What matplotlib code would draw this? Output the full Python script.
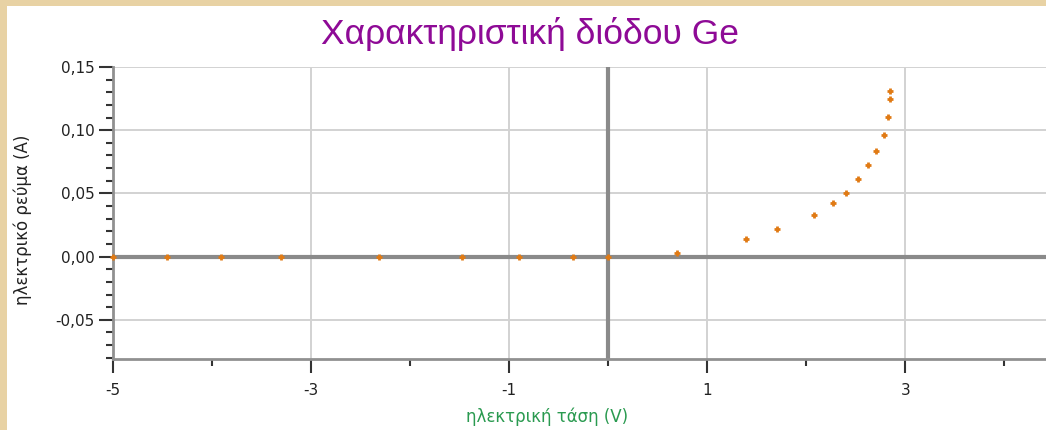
import numpy as np
import matplotlib.pyplot as plt
from matplotlib.patches import Rectangle
from matplotlib.ticker import FixedLocator, FuncFormatter

# μετρήσεις χαρακτηριστικής διόδου Ge
tasi = [-5.00, -4.455, -3.912, -3.306, -2.313, -1.481, -0.899, -0.354, 0.0,
        0.697, 1.388, 1.707, 2.075, 2.273, 2.398, 2.519, 2.620, 2.701,
        2.782, 2.822, 2.842, 2.842]
revma = [0.0, 0.0, 0.0, 0.0, 0.0, 0.0, 0.0, 0.0, 0.0,
         0.0027, 0.0137, 0.0216, 0.0327, 0.0422, 0.0501, 0.0614, 0.0722, 0.0835,
         0.0959, 0.1103, 0.1243, 0.1309]

x_major = [-5, -3, -1, 1, 3]
x_minor = [-4, -2, 0, 2, 4]
y_major = [-0.05, 0.0, 0.05, 0.10, 0.15]
y_minor = list(np.arange(-0.08, 0.151, 0.01))

W, H = 1046, 430
fig = plt.figure(figsize=(W / 100, H / 100), dpi=100)
fig.patch.set_facecolor('#e8d2a4')
# λευκό φύλλο πάνω στο φόντο
fig.patches.append(Rectangle((7 / W, 0), 1 - 7 / W, 1 - 6 / H, transform=fig.transFigure,
                             facecolor='white', edgecolor='none', zorder=-5))

ax = fig.add_axes([113 / W, (H - 359) / H, (W - 113) / W, (359 - 67) / H])
ax.set_zorder(1)
ax.set_facecolor('white')
ax.set_xlim(-5, 4.42)
ax.set_ylim(-0.081, 0.15)

ax.xaxis.set_major_locator(FixedLocator(x_major))
ax.xaxis.set_minor_locator(FixedLocator(x_minor))
ax.yaxis.set_major_locator(FixedLocator(y_major))
ax.yaxis.set_minor_locator(FixedLocator(y_minor))
ax.xaxis.set_major_formatter(FuncFormatter(lambda v, p: f'{v:.0f}'))
ax.yaxis.set_major_formatter(FuncFormatter(lambda v, p: f'{v:.2f}'.replace('.', ',')))

ax.grid(True, which='major', color='#d2d2d2', linewidth=1.4)
# άξονες x=0 και y=0 πάνω από το πλέγμα
ax.axhline(0, color='#8a8a8a', linewidth=3.0, zorder=2)
ax.axvline(0, color='#8a8a8a', linewidth=3.0, zorder=2)

for s in ['top', 'right']:
    ax.spines[s].set_visible(False)
for s in ['left', 'bottom']:
    ax.spines[s].set_color('#909090')
    ax.spines[s].set_linewidth(2.0)

ax.tick_params(axis='both', which='major', length=10, width=1.5, color='#333333',
               labelsize=11, labelcolor='#222222')
ax.tick_params(axis='both', which='minor', length=5, width=1.5, color='#333333')
ax.tick_params(axis='x', which='major', pad=7)
ax.tick_params(axis='y', which='major', pad=3)
for lab in ax.get_xticklabels() + ax.get_yticklabels():
    lab.set_family('DejaVu Sans')

ax.plot(tasi, revma, linestyle='none', marker='+', markersize=5,
        color='#e07a14', markeredgewidth=2.0, zorder=3, clip_on=False)

fig.text(530 / W, 1 - 44 / H, 'Χαρακτηριστική διόδου Ge', ha='center', va='baseline',
         fontsize=25.5, color='#8e0a96', family='Liberation Sans')
fig.text(547 / W, 1 - 417 / H, 'ηλεκτρική τάση (V)', ha='center', va='center',
         fontsize=12, color='#2a9a50', family='DejaVu Sans')
fig.text(23 / W, 1 - 220 / H, 'ηλεκτρικό ρεύμα (A)', ha='center', va='center',
         rotation=90, fontsize=12, color='#222222', family='DejaVu Sans')

fig.savefig('out.png', dpi=100, facecolor=fig.get_facecolor())
